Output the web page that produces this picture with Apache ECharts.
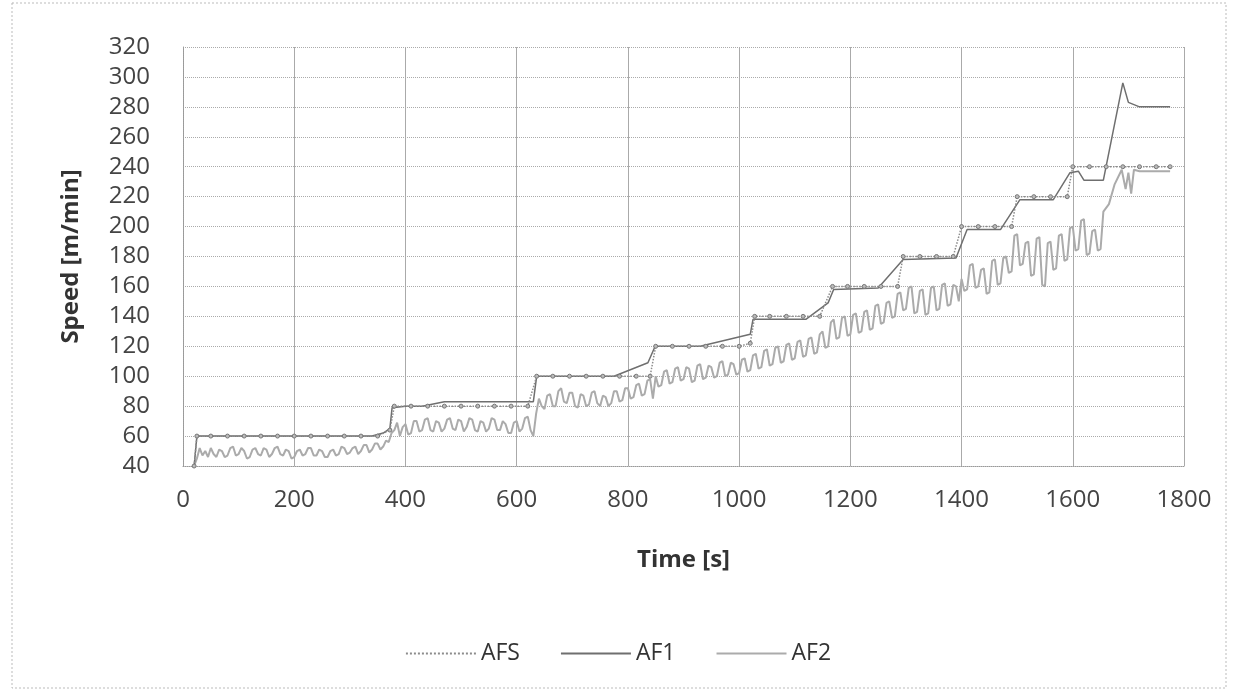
<!DOCTYPE html>
<html>
<head>
<meta charset="utf-8">
<script src="https://cdn.jsdelivr.net/npm/echarts@6/dist/echarts.min.js"></script>
<style>
  html, body { margin: 0; padding: 0; background: #fff; }
  #main { width: 1236px; height: 695px; }
</style>
</head>
<body>
<div id="main"></div>
<script>
// axis ticks
const xTicks = [0, 200, 400, 600, 800, 1000, 1200, 1400, 1600, 1800];
const yTicks = [40, 60, 80, 100, 120, 140, 160, 180, 200, 220, 240, 260, 280, 300, 320];

// set speed [time s, speed m/min]
const afs = [
  [20, 40], [25, 60], [50, 60], [80, 60], [110, 60], [140, 60], [170, 60], [200, 60], [230, 60],
  [260, 60], [290, 60], [320, 60], [350, 60], [372, 64], [380, 80], [410, 80], [440, 80], [470, 80],
  [500, 80], [530, 80], [560, 80], [590, 80], [620, 80], [636, 100], [665, 100], [695, 100], [725, 100],
  [755, 100], [785, 100], [815, 100], [840, 100], [850, 120], [880, 120], [910, 120], [940, 120],
  [970, 120], [1000, 120], [1020, 122], [1028, 140], [1055, 140], [1085, 140], [1115, 140], [1145, 140],
  [1168, 160], [1195, 160], [1225, 160], [1255, 160], [1285, 160], [1295, 180], [1325, 180], [1355, 180],
  [1385, 180], [1400, 200], [1430, 200], [1460, 200], [1490, 200], [1500, 220], [1530, 220], [1560, 220],
  [1590, 220], [1600, 240], [1630, 240], [1660, 240], [1690, 240], [1720, 240], [1750, 240], [1775, 240]
];

const af1 = [
  [20, 40], [25, 60], [340, 60], [360, 62], [372, 65], [376, 79], [400, 80], [430, 80], [470, 83],
  [630, 83], [636, 100], [775, 100], [836, 109], [849, 120], [930, 120], [1020, 128], [1025, 138],
  [1120, 138], [1160, 149], [1170, 158], [1250, 159], [1295, 178], [1390, 179], [1410, 198], [1470, 198],
  [1505, 218], [1565, 218], [1595, 236], [1610, 237], [1620, 231], [1655, 231], [1690, 296], [1700, 283],
  [1720, 280], [1775, 280]
];

const af2 = [
  [20, 40], [25, 45], [30, 52], [35, 47], [40, 50], [45, 46], [50, 52], [55, 48], [60, 46], [65, 51],
  [70, 50], [75, 46], [80, 47], [85, 52], [90, 53], [95, 47], [100, 48], [105, 52], [110, 50], [115, 45],
  [120, 46], [125, 51], [130, 52], [135, 48], [140, 47], [145, 52], [150, 51], [155, 46], [160, 48],
  [165, 52], [170, 53], [175, 48], [180, 47], [185, 51], [190, 50], [195, 45], [200, 46], [205, 50],
  [210, 51], [215, 47], [220, 48], [225, 52], [230, 52], [235, 47], [240, 47], [245, 51], [250, 50],
  [255, 46], [260, 46], [265, 50], [270, 51], [275, 47], [280, 48], [285, 53], [290, 52], [295, 48],
  [300, 49], [305, 52], [310, 53], [315, 48], [320, 50], [325, 54], [330, 54], [335, 49], [340, 51],
  [345, 55], [350, 55], [355, 51], [360, 53], [365, 57], [370, 56],
  [375, 62], [380, 64], [385, 69], [390, 60], [395, 66], [400, 68], [405, 61], [410, 62], [415, 70],
  [420, 70], [425, 63], [430, 64], [435, 71], [440, 72], [445, 64], [450, 63], [455, 70], [460, 69],
  [465, 63], [470, 65], [475, 71], [480, 72], [485, 65], [490, 64], [495, 71], [500, 70], [505, 63],
  [510, 66], [515, 72], [520, 71], [525, 64], [530, 63], [535, 70], [540, 69], [545, 63], [550, 65],
  [555, 72], [560, 71], [565, 64], [570, 64], [575, 70], [580, 68], [585, 62], [590, 62], [595, 69],
  [600, 70], [605, 63], [610, 65], [615, 72], [620, 73], [625, 64], [630, 60],
  [635, 75], [640, 85], [645, 80], [650, 78], [655, 87], [660, 88], [665, 80], [670, 80], [675, 90],
  [680, 92], [685, 83], [690, 82], [695, 89], [700, 89], [705, 80], [710, 79], [715, 88], [720, 87],
  [725, 80], [730, 81], [735, 89], [740, 90], [745, 82], [750, 80], [755, 87], [760, 86], [765, 80],
  [770, 82], [775, 90], [780, 90], [785, 83], [790, 84], [795, 92], [800, 92], [805, 85], [810, 86],
  [815, 94], [820, 95], [825, 87], [830, 88], [835, 97], [840, 98], [845, 85],
  [850, 100], [855, 93], [860, 94], [865, 103], [870, 104], [875, 95], [880, 96], [885, 105],
  [890, 106], [895, 97], [900, 98], [905, 106], [910, 105], [915, 96], [920, 97], [925, 107],
  [930, 108], [935, 98], [940, 99], [945, 107], [950, 106], [955, 99], [960, 100], [965, 109],
  [970, 110], [975, 100], [980, 101], [985, 109], [990, 108], [995, 101], [1000, 102], [1005, 111],
  [1010, 112], [1015, 103], [1020, 104], [1025, 114], [1030, 115], [1035, 105], [1040, 106],
  [1045, 117], [1050, 118], [1055, 107], [1060, 108], [1065, 119], [1070, 120], [1075, 109],
  [1080, 110], [1085, 121], [1090, 122], [1095, 111], [1100, 112], [1105, 123], [1110, 124],
  [1115, 113], [1120, 114], [1125, 125], [1130, 126], [1135, 115], [1140, 116], [1145, 128],
  [1150, 130], [1155, 119], [1160, 120], [1165, 136], [1170, 138], [1175, 125], [1180, 126],
  [1185, 139], [1190, 140], [1195, 127], [1200, 128], [1205, 141], [1210, 142], [1215, 129],
  [1220, 130], [1225, 143], [1230, 144], [1235, 131], [1240, 132], [1245, 147], [1250, 148],
  [1255, 135], [1260, 136], [1265, 149], [1270, 150], [1275, 139], [1280, 140], [1285, 155],
  [1290, 156], [1295, 144], [1300, 145], [1305, 159], [1310, 160], [1315, 142], [1320, 143],
  [1325, 157], [1330, 158], [1335, 141], [1340, 142], [1345, 159], [1350, 160], [1355, 144],
  [1360, 145], [1365, 161], [1370, 162], [1375, 147], [1380, 148], [1385, 161], [1390, 160],
  [1395, 150], [1400, 165], [1405, 157], [1410, 158], [1415, 174], [1420, 175], [1425, 159],
  [1430, 160], [1435, 171], [1440, 172], [1445, 155], [1450, 156], [1455, 177], [1460, 178],
  [1465, 161], [1470, 162], [1475, 179], [1480, 180], [1485, 169], [1490, 170], [1495, 194],
  [1500, 195], [1505, 174], [1510, 175], [1515, 189], [1520, 190], [1525, 167], [1530, 168],
  [1535, 192], [1540, 193], [1545, 161], [1550, 160], [1555, 189], [1560, 190], [1565, 171],
  [1570, 172], [1575, 194], [1580, 195], [1585, 177], [1590, 178], [1595, 199], [1600, 200],
  [1605, 184], [1610, 185], [1615, 204], [1620, 205], [1625, 181], [1630, 182], [1635, 197],
  [1640, 198], [1645, 184], [1650, 185], [1655, 210], [1665, 215], [1675, 228], [1688, 238],
  [1695, 225], [1700, 236], [1705, 222], [1710, 238], [1720, 237], [1775, 237]
];

const font = '"Open Sans", "Noto Sans", sans-serif';
const chart = echarts.init(document.getElementById('main'));

const option = {
  backgroundColor: '#fff',
  animation: false,
  textStyle: { fontFamily: font },
  graphic: [{
    type: 'rect',
    shape: { x: 12, y: 3, width: 1214, height: 685 },
    style: { fill: 'none', stroke: '#bbb', lineWidth: 1, lineDash: [2, 2] }
  }],
  grid: { left: 183, right: 52, top: 47, bottom: 229 },
  legend: {
    top: 637,
    left: 'center',
    itemWidth: 70,
    itemHeight: 10,
    itemGap: 40,
    textStyle: { fontFamily: font, fontSize: 23, color: '#333' },
    data: [
      { name: 'AFS', itemStyle: { opacity: 0 } },
      { name: 'AF1', itemStyle: { opacity: 0 } },
      { name: 'AF2', itemStyle: { opacity: 0 } }
    ]
  },
  xAxis: {
    type: 'value',
    min: xTicks[0],
    max: xTicks[xTicks.length - 1],
    interval: 200,
    name: 'Time [s]',
    nameLocation: 'middle',
    nameGap: 82,
    nameTextStyle: { fontFamily: font, fontSize: 24, fontWeight: 'bold', color: '#333' },
    axisLine: { show: true, lineStyle: { color: '#999', type: 'dotted' } },
    axisTick: { show: false },
    axisLabel: { fontSize: 24, color: '#444', margin: 22, formatter: v => String(v) },
    splitLine: { show: true, lineStyle: { color: '#aaa', width: 1 } }
  },
  yAxis: {
    type: 'value',
    min: yTicks[0],
    max: yTicks[yTicks.length - 1],
    interval: 20,
    name: 'Speed [m/min]',
    nameLocation: 'middle',
    nameGap: 100,
    nameTextStyle: { fontFamily: font, fontSize: 24, fontWeight: 'bold', color: '#333' },
    axisLine: { show: true, lineStyle: { color: '#999', type: 'dotted' } },
    axisTick: { show: false },
    axisLabel: { fontSize: 24, color: '#444', margin: 33 },
    splitLine: { show: true, lineStyle: { color: '#aaa', type: 'dotted', width: 1 } }
  },
  series: [
    {
      name: 'AF2',
      type: 'line',
      data: af2,
      showSymbol: false,
      symbol: 'none',
      z: 2,
      lineStyle: { color: '#ababab', width: 2 },
      itemStyle: { color: '#ababab' }
    },
    {
      name: 'AF1',
      type: 'line',
      data: af1,
      showSymbol: false,
      symbol: 'none',
      z: 3,
      lineStyle: { color: '#6f6f6f', width: 1.5 },
      itemStyle: { color: '#6f6f6f' }
    },
    {
      name: 'AFS',
      type: 'line',
      data: afs,
      symbol: 'circle',
      symbolSize: 4,
      showSymbol: true,
      z: 4,
      lineStyle: { color: '#8c8c8c', width: 1.5, type: 'dotted' },
      itemStyle: { color: '#bbb', borderColor: '#777', borderWidth: 1 }
    }
  ]
};

chart.setOption(option);
</script>
</body>
</html>
